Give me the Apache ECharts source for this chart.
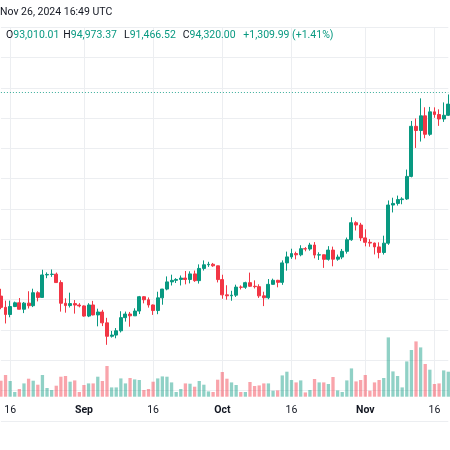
<!DOCTYPE html>
<html><head><meta charset="utf-8">
<script src="https://cdn.jsdelivr.net/npm/echarts@6/dist/echarts.min.js"></script>
<style>html,body{margin:0;padding:0;background:#fff}#c{width:450px;height:450px}</style>
</head><body><div id="c"></div>
<script>
const dates = [
"2024-08-14","2024-08-15","2024-08-16","2024-08-17","2024-08-18","2024-08-19","2024-08-20","2024-08-21","2024-08-22","2024-08-23","2024-08-24","2024-08-25","2024-08-26","2024-08-27","2024-08-28","2024-08-29","2024-08-30","2024-08-31",
"2024-09-01","2024-09-02","2024-09-03","2024-09-04","2024-09-05","2024-09-06","2024-09-07","2024-09-08","2024-09-09","2024-09-10","2024-09-11","2024-09-12","2024-09-13","2024-09-14","2024-09-15","2024-09-16","2024-09-17","2024-09-18","2024-09-19","2024-09-20","2024-09-21","2024-09-22","2024-09-23","2024-09-24","2024-09-25","2024-09-26","2024-09-27","2024-09-28","2024-09-29","2024-09-30",
"2024-10-01","2024-10-02","2024-10-03","2024-10-04","2024-10-05","2024-10-06","2024-10-07","2024-10-08","2024-10-09","2024-10-10","2024-10-11","2024-10-12","2024-10-13","2024-10-14","2024-10-15","2024-10-16","2024-10-17","2024-10-18","2024-10-19","2024-10-20","2024-10-21","2024-10-22","2024-10-23","2024-10-24","2024-10-25","2024-10-26","2024-10-27","2024-10-28","2024-10-29","2024-10-30","2024-10-31",
"2024-11-01","2024-11-02","2024-11-03","2024-11-04","2024-11-05","2024-11-06","2024-11-07","2024-11-08","2024-11-09","2024-11-10","2024-11-11","2024-11-12","2024-11-13","2024-11-14","2024-11-15","2024-11-16","2024-11-17","2024-11-18","2024-11-19"];

const opens = [
60601,58739,57560,58874,59491,58427,59438,59013,61156,60381,64094,64178,64220,62834,59416,59034,59359,59123,
58974,57301,59133,57487,57970,56180,53962,54160,54869,57042,57635,57338,58132,60498,59993,59132,58213,60309,61759,62947,63201,63348,63578,63339,64262,63152,65173,65769,65858,65602,
63327,60805,60649,60752,62086,62058,62819,62224,62160,60636,60326,62540,63206,62870,66084,67075,67620,67421,68428,68378,69032,67378,67426,66668,68199,66698,67048,67993,69907,72720,72339,
70215,69482,69358,68727,67800,69340,75640,75905,76538,76650,80370,88647,87952,90375,87325,91032,90587,89855,90465];

const highs = [
61800,59850,59848,59689,60284,59617,61400,61820,61400,64955,64513,65000,64482,63213,60234,61166,59945,59432,
59062,59425,59809,58520,58327,57008,54850,55318,58100,58044,57981,58588,60625,60610,60380,59210,61320,61787,63850,64133,63560,64000,64745,64688,64817,65839,66498,66260,66076,65618,
64130,62392,61477,62484,62370,62975,64478,63200,62543,61321,63417,63480,63285,66500,67950,68424,67939,69000,68694,69400,69520,67836,67472,68850,68772,67454,68388,70270,73620,72961,72700,
71632,70000,69433,69480,70577,76400,76849,77199,76932,81500,89530,89940,93265,91790,91850,91779,91449,92594,93905];

const lows = [
58433,56078,57098,58785,58408,57787,58548,58783,59724,60345,63555,63780,62800,58034,57860,58713,57703,58738,
57201,57128,57415,55606,55644,52550,53745,53629,54591,56386,55545,57324,57632,59400,58696,57493,57610,59174,61555,62350,62762,62357,62538,62700,62947,62670,64819,65422,65432,62856,
60164,60000,59828,60459,61689,61798,62128,61860,60300,58946,60087,62487,62050,62457,64800,66750,66666,67178,68000,68100,66840,66571,65260,66454,65520,66439,66700,67617,69730,71436,69686,
68820,68754,67478,66835,67458,69065,74416,75555,75773,76493,80216,85072,86127,86668,87073,90056,88722,89376,90357];

const closes = [
58739,57560,58874,59491,58427,59438,59013,61156,60381,64094,64178,64220,62834,59416,59034,59359,59123,58974,
57301,59133,57487,57970,56180,53962,54160,54869,57042,57635,57338,58132,60498,59993,59132,58213,60309,61759,62947,63201,63348,63578,63339,64262,63152,65173,65769,65858,65602,63327,
60805,60649,60752,62086,62058,62819,62224,62160,60636,60326,62540,63206,62870,66084,67075,67620,67421,68428,68378,69032,67378,67426,66668,68199,66698,67048,67993,69907,72720,72339,70215,
69482,69358,68727,67800,69340,75640,75905,76538,76650,80370,88647,87952,90375,87325,91032,90587,89855,90465,92310];

const volumes = [
16000,21700,15700,4700,7700,13300,18000,16000,12000,21700,8700,6700,11000,20000,20700,15000,16300,4700,
11700,13300,13300,20000,15700,30700,9300,9300,18300,13300,18700,17300,16700,6700,7700,15000,18300,20300,20000,14300,4700,7700,13300,13000,10000,15700,12000,5300,4700,17000,
24700,18000,14300,11700,4700,4700,14700,10700,11300,13300,13300,6000,6300,21300,25000,16700,14300,16300,4300,6700,17700,14300,14300,12700,19700,6300,4700,16300,28300,15300,16700,
21700,6000,14300,16700,18700,59300,25300,20700,9300,35300,46700,55300,49300,32700,27000,12700,13300,26300,25000];

const tickDates = ["2024-08-16","2024-09-01","2024-09-16","2024-10-01","2024-10-16","2024-11-01","2024-11-16"];
const tickTexts = ["16","Sep","16","Oct","16","Nov","16"];
const tickIsMonth = [false,true,false,true,false,true,false];

const headerText = "Nov 26, 2024 16:49 UTC";
const legendKeys = ["O","H","L","C"];
const legendVals = ["93,010.01","94,973.37","91,466.52","94,320.00"];
const changeText = "+1,309.99 (+1.41%)";
const lastClose = 94320;

const UP = '#089981', DOWN = '#F23645', TXT = '#131722', GRID = '#eceef1';
const FONT = 'Roboto, "Liberation Sans", sans-serif';

const candleData = dates.map((d, i) => [opens[i], closes[i], lows[i], highs[i]]);
const volData = dates.map((d, i) => ({
  value: volumes[i],
  itemStyle: { color: closes[i] >= opens[i] ? 'rgba(8,153,129,0.45)' : 'rgba(242,54,69,0.45)' }
}));

const chart = echarts.init(document.getElementById('c'), null, { renderer: 'canvas' });
const legendX = [6, 63.3, 124, 182.7];
const graphics = [
  { type: 'text', left: 0, top: 7, z: 100, style: { text: headerText, font: '10.5px ' + FONT, fill: TXT } }
];
legendKeys.forEach((k, i) => {
  graphics.push({ type: 'text', left: legendX[i], top: 29.5, z: 100,
    style: { text: '{k|' + k + '}{v|' + legendVals[i] + '}',
      rich: { k: { fill: TXT, font: '10.5px ' + FONT }, v: { fill: UP, font: '10.5px ' + FONT } } } });
});
graphics.push({ type: 'text', left: 243.3, top: 29.5, z: 100, style: { text: changeText, font: '10.5px ' + FONT, fill: UP } });

const gridLR = { left: 0.92, right: 1.7 };
chart.setOption({
  animation: false,
  backgroundColor: '#ffffff',
  grid: [
    { left: gridLR.left, right: gridLR.right, top: 27.3, bottom: 29.2 },
    { left: gridLR.left, right: gridLR.right, top: 27.3, bottom: 53.3 }
  ],
  xAxis: [
    { gridIndex: 0, type: 'category', data: dates, boundaryGap: false,
      axisLine: { show: false }, axisTick: { show: false }, axisLabel: { show: false }, splitLine: { show: false } },
    { gridIndex: 1, type: 'category', data: dates, boundaryGap: false,
      axisLine: { show: false }, axisTick: { show: false },
      axisLabel: {
        interval: (idx, val) => tickDates.indexOf(val) >= 0,
        margin: 8,
        formatter: (val) => {
          const i = tickDates.indexOf(val);
          if (i < 0) return '';
          return tickIsMonth[i] ? '{b|' + tickTexts[i] + '}' : '{n|' + tickTexts[i] + '}';
        },
        rich: {
          b: { fontWeight: 'bold', fontSize: 10.5, color: TXT, fontFamily: FONT },
          n: { fontSize: 10.5, color: TXT, fontFamily: FONT }
        }
      },
      splitLine: { show: true, interval: (idx, val) => tickDates.indexOf(val) >= 0, lineStyle: { color: GRID, width: 1 } } }
  ],
  yAxis: [
    { gridIndex: 0, type: 'value', min: 40000, max: 105000, interval: 5000, position: 'right',
      axisLine: { show: false }, axisTick: { show: false }, axisLabel: { show: false },
      splitLine: { show: true, lineStyle: { color: GRID, width: 1 } } },
    { gridIndex: 1, type: 'value', min: 0, max: 369400,
      axisLine: { show: false }, axisTick: { show: false }, axisLabel: { show: false }, splitLine: { show: false } }
  ],
  series: [
    { type: 'bar', xAxisIndex: 1, yAxisIndex: 1, data: volData, barWidth: 3.3, z: 1, silent: true },
    { type: 'candlestick', xAxisIndex: 0, yAxisIndex: 0, data: candleData, barWidth: 3.4, clip: false, z: 3,
      itemStyle: { color: UP, color0: DOWN, borderColor: UP, borderColor0: DOWN, borderWidth: 1 },
      markLine: { silent: true, symbol: ['none', 'none'], label: { show: false },
        lineStyle: { color: UP, type: [1, 2], width: 1, opacity: 0.8 },
        data: [{ yAxis: lastClose }] } }
  ],
  graphic: graphics
});
</script>
</body></html>
